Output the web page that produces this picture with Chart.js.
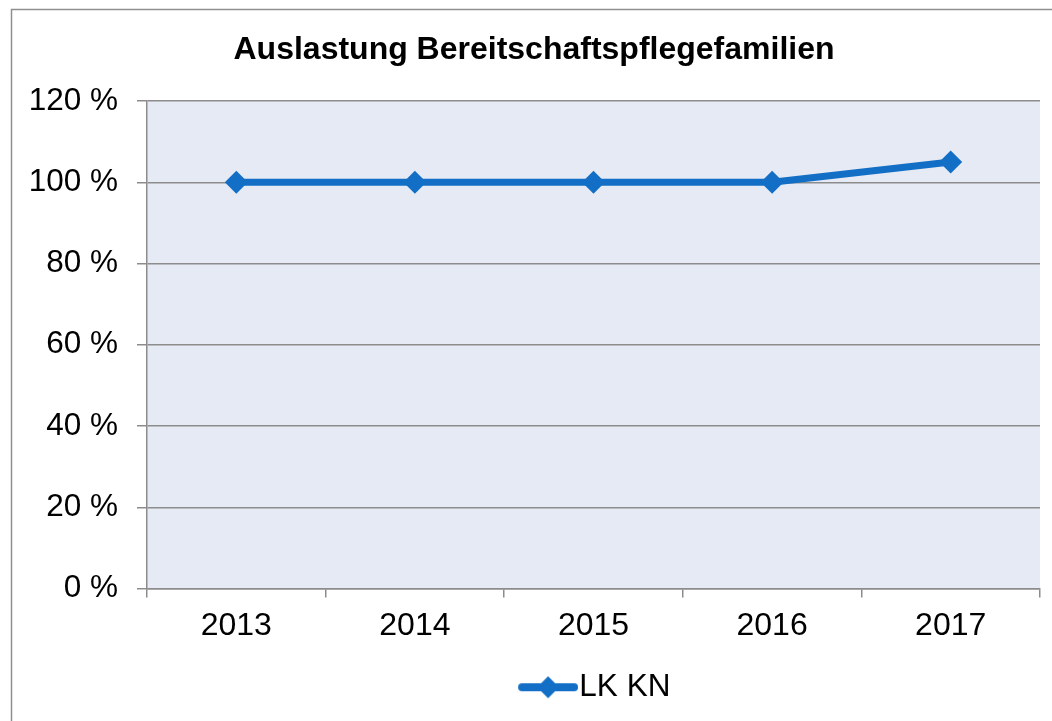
<!DOCTYPE html>
<html>
<head>
<meta charset="utf-8">
<script src="https://cdn.jsdelivr.net/npm/chart.js@4/dist/chart.umd.min.js"></script>
<style>
body{margin:0;background:#fff;}
canvas{display:block;}
</style>
</head>
<body>
<canvas id="chart" width="1052" height="721"></canvas>
<script>

// data
let years=["2013","2014","2015","2016","2017"];
let auslastung=[100,100,100,100,105];
let seriesName="LK KN";
let titleText="Auslastung Bereitschaftspflegefamilien";

let blue="#136fc6";
let gridGray="#8c8c8c";
let font="'Liberation Sans', Arial, sans-serif";

// legend marker: line with a diamond in the middle, like the office chart
let legendMark=document.createElement("canvas");
legendMark.width=76;
legendMark.height=26;
let lc=legendMark.getContext("2d");
lc.strokeStyle=blue;
lc.lineWidth=8;
lc.lineCap="round";
lc.beginPath();
lc.moveTo(20,13);
lc.lineTo(72,13);
lc.stroke();
lc.fillStyle=blue;
lc.beginPath();
lc.moveTo(46,2);
lc.lineTo(57,13);
lc.lineTo(46,24);
lc.lineTo(35,13);
lc.closePath();
lc.fill();

let frame={
id:"frame",
beforeDraw(chart){
let ctx=chart.ctx;
let a=chart.chartArea;
ctx.save();
ctx.fillStyle="#e6eaf5";
ctx.fillRect(a.left,a.top,a.right-a.left,a.bottom-a.top);
ctx.strokeStyle="#8f8f8f";
ctx.lineWidth=1.5;
ctx.strokeRect(11.5,9.5,2000,2000);
ctx.restore();
}
};

new Chart(document.getElementById("chart"),{
type:"line",
data:{
labels:years,
datasets:[{
label:seriesName,
data:auslastung,
borderColor:blue,
backgroundColor:blue,
borderWidth:7,
pointStyle:"rectRot",
pointRadius:11.5,
pointHoverRadius:11.5,
pointBackgroundColor:blue,
pointBorderWidth:0,
tension:0
}]
},
options:{
responsive:false,
animation:false,
devicePixelRatio:1,
layout:{padding:{left:28,right:12,top:0,bottom:8}},
plugins:{
title:{
display:true,
text:titleText,
color:"#000",
font:{family:font,size:32,weight:"bold"},
padding:{top:31,bottom:31.6}
},
legend:{
position:"bottom",
fullSize:false,
labels:{
usePointStyle:true,
pointStyle:legendMark,
pointStyleWidth:47,
boxHeight:26,
color:"#000",
font:{family:font,size:31.5},
padding:10
}
},
tooltip:{enabled:false}
},
scales:{
x:{
offset:true,
grid:{offset:true,drawOnChartArea:false,tickLength:9,color:gridGray,lineWidth:1.5},
border:{color:gridGray,width:1.5},
ticks:{color:"#000",font:{family:font,size:32},padding:9,maxRotation:0},
afterFit(s){s.height=73;}
},
y:{
min:0,
max:120,
ticks:{
stepSize:20,
color:"#000",
font:{family:font,size:31.5},
padding:19,
callback:v=>v+" %"
},
grid:{color:gridGray,lineWidth:1.5,tickLength:10},
border:{color:gridGray,width:1.5},
afterFit(s){s.width=119;}
}
}
},
plugins:[frame]
});

</script>
</body>
</html>
